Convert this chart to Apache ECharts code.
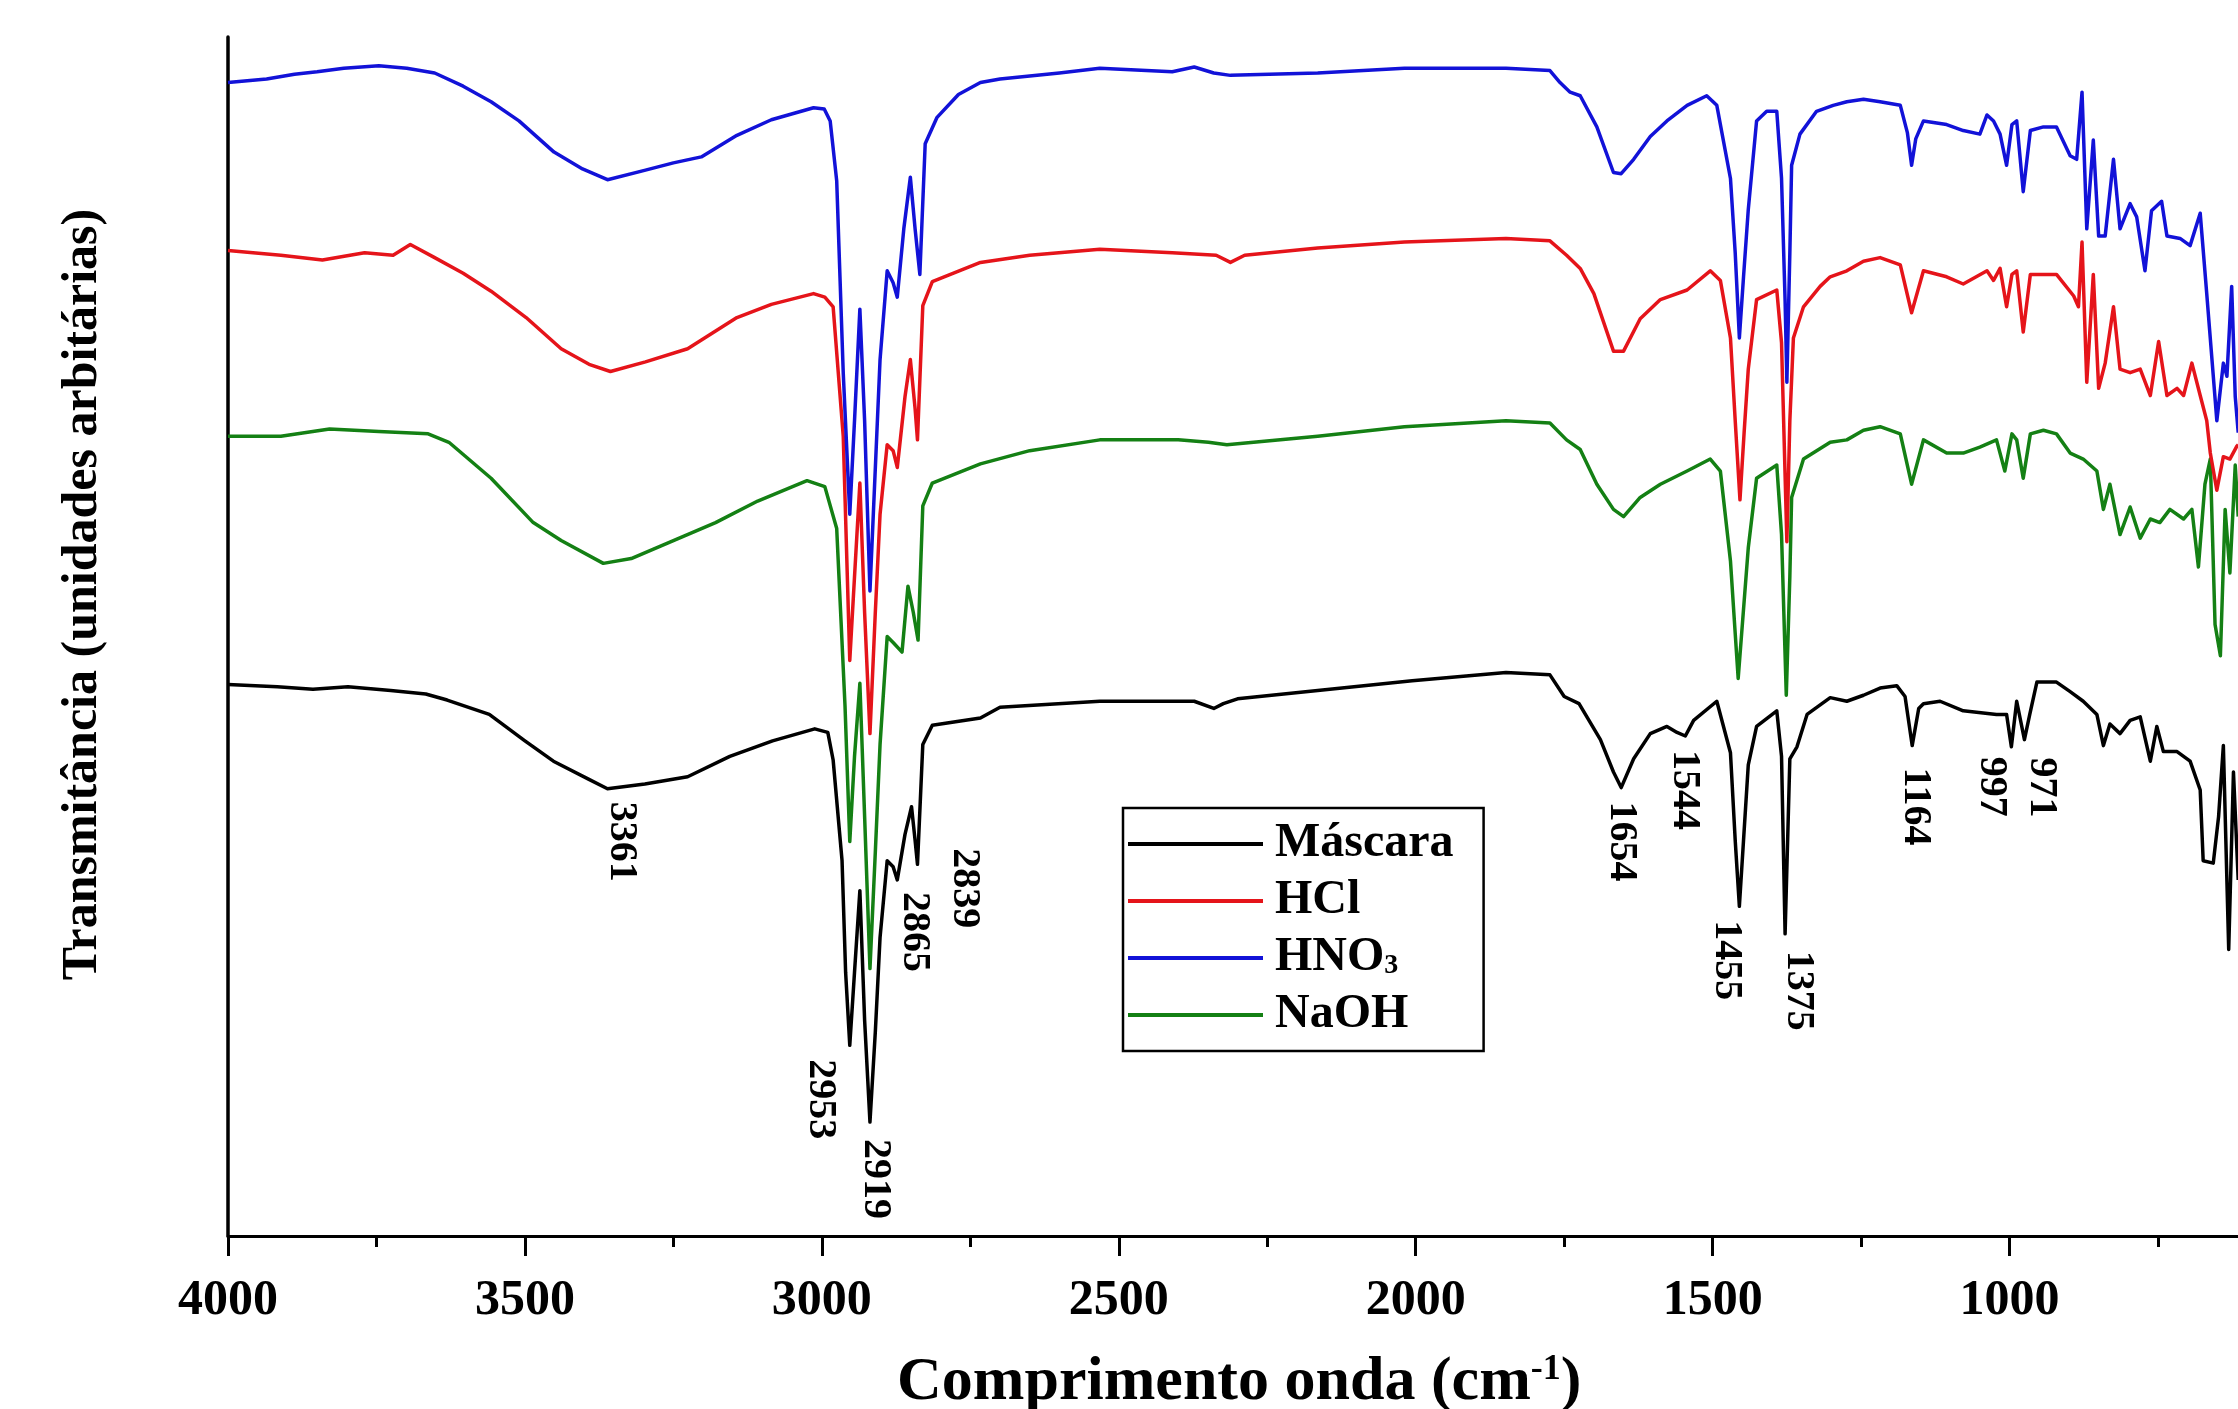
<!DOCTYPE html>
<html><head><meta charset="utf-8">
<script src="https://cdn.jsdelivr.net/npm/echarts@6/dist/echarts.min.js"></script>
<style>html,body{margin:0;padding:0;background:#fff;overflow:hidden}#c{width:2238px;height:1409px}</style>
</head><body><div id="c"></div>
<script>
// FTIR spectra: [wavenumber (cm-1), transmittance (arbitrary units)]
const seriesNames = ['Máscara', 'HCl', 'HNO3', 'NaOH'];

const mascara = [[4000,46.0],[3917,45.8],[3857,45.6],[3798,45.8],[3726,45.5],[3667,45.2],[3631,44.7],[3560,43.5],[3500,41.3],[3452,39.6],[3393,38.1],[3361,37.3],[3298,37.7],[3226,38.3],[3155,40.0],[3083,41.3],[3012,42.3],[2990,42.0],[2981,39.7],[2966,31.3],[2960,22],[2953,15.9],[2945,22],[2936,28.8],[2928,18],[2919,9.5],[2910,17],[2902,24.9],[2890,31.3],[2880,30.8],[2873,29.7],[2860,33.5],[2849,35.8],[2843,33],[2839,31.0],[2830,41.0],[2814,42.6],[2733,43.2],[2700,44.1],[2532,44.6],[2400,44.6],[2373,44.6],[2340,44.0],[2324,44.4],[2300,44.8],[2165,45.5],[2006,46.3],[1848,47.0],[1774,46.8],[1750,45.0],[1725,44.4],[1689,41.4],[1667,38.7],[1654,37.4],[1633,39.8],[1605,41.9],[1577,42.5],[1560,42.0],[1546,41.7],[1532,43.0],[1493,44.6],[1470,40.3],[1462,33],[1455,27.5],[1448,33],[1440,39.3],[1426,42.5],[1392,43.8],[1384,40],[1378,25.2],[1370,39.8],[1358,40.8],[1341,43.5],[1302,44.9],[1274,44.6],[1246,45.1],[1218,45.7],[1190,45.9],[1176,45],[1164,40.9],[1153,44],[1145,44.4],[1117,44.6],[1078,43.8],[1022,43.5],[1005,43.5],[997,40.8],[988,44.6],[975,41.4],[966,43.5],[954,46.2],[921,46.2],[898,45.4],[876,44.6],[853,43.5],[842,40.9],[831,42.7],[814,41.9],[797,43.0],[780,43.3],[763,39.6],[752,42.5],[741,40.4],[718,40.4],[696,39.6],[679,37.2],[674,31.3],[657,31.1],[648,35.0],[640,40.9],[631,23.9],[623,38.7],[615,29.7]];

const hcl = [[4000,82.2],[3911,81.8],[3841,81.4],[3770,82.0],[3722,81.8],[3693,82.7],[3652,81.6],[3604,80.3],[3557,78.8],[3498,76.6],[3439,74.0],[3392,72.7],[3356,72.1],[3297,72.9],[3226,74.0],[3143,76.6],[3085,77.7],[3014,78.6],[2995,78.3],[2981,77.5],[2964,66.7],[2953,48.0],[2945,55],[2936,62.8],[2928,52],[2919,41.9],[2910,52],[2902,60.2],[2890,66.0],[2880,65.5],[2873,64.1],[2860,70],[2851,73.1],[2843,69],[2839,66.4],[2830,77.6],[2814,79.6],[2733,81.2],[2650,81.8],[2532,82.3],[2410,82.0],[2336,81.8],[2312,81.2],[2288,81.8],[2165,82.4],[2019,82.9],[1848,83.2],[1774,83.0],[1746,81.8],[1723,80.7],[1700,78.6],[1667,73.8],[1650,73.8],[1622,76.5],[1588,78.1],[1543,78.9],[1504,80.5],[1487,79.7],[1470,74.9],[1462,68],[1454,61.4],[1447,67],[1440,72.3],[1426,78.1],[1392,78.9],[1384,74.5],[1375,57.9],[1370,68],[1364,74.9],[1347,77.5],[1319,79.2],[1302,80.0],[1274,80.5],[1246,81.3],[1218,81.6],[1184,81.0],[1165,77.0],[1145,80.5],[1106,80.0],[1078,79.4],[1038,80.5],[1027,79.7],[1016,80.7],[1005,77.5],[996,80.2],[988,80.5],[977,75.4],[965,80.2],[921,80.2],[892,78.4],[884,77.5],[878,82.9],[870,71.2],[859,80.2],[850,70.7],[839,72.8],[825,77.5],[814,72.3],[797,72.0],[780,72.3],[763,70.1],[749,74.6],[735,70.1],[718,70.7],[707,70.1],[693,72.8],[679,70.1],[668,68.0],[662,65.3],[651,62.2],[640,65],[629,64.8],[617,65.9],[615,66]];

const hno3 = [[4000,96.2],[3935,96.5],[3888,96.9],[3850,97.1],[3805,97.4],[3746,97.6],[3699,97.4],[3652,97.0],[3604,95.9],[3557,94.6],[3510,93.0],[3451,90.4],[3403,89.0],[3361,88.1],[3297,88.9],[3250,89.5],[3203,90.0],[3143,91.8],[3085,93.1],[3014,94.1],[2996,94.0],[2986,93.0],[2975,88],[2964,72],[2953,60.2],[2945,68],[2936,77.3],[2928,68],[2919,53.8],[2910,64],[2902,73.1],[2890,80.5],[2880,79.5],[2873,78.3],[2862,84],[2851,88.3],[2843,84],[2835,80.2],[2826,91.1],[2806,93.3],[2770,95.2],[2733,96.2],[2700,96.5],[2600,97.0],[2532,97.4],[2410,97.1],[2373,97.5],[2340,97.0],[2312,96.8],[2165,97.0],[2019,97.4],[1848,97.4],[1774,97.2],[1757,96.2],[1740,95.4],[1723,95.1],[1695,92.5],[1667,88.7],[1654,88.6],[1633,89.8],[1605,91.7],[1577,93.0],[1543,94.3],[1510,95.1],[1493,94.3],[1470,88.2],[1462,82],[1455,74.9],[1448,80],[1440,85.6],[1426,93.0],[1409,93.8],[1392,93.8],[1384,88.2],[1378,78],[1375,71.2],[1370,82],[1367,89.3],[1353,91.9],[1325,93.8],[1297,94.3],[1274,94.6],[1246,94.8],[1218,94.6],[1184,94.3],[1172,92],[1165,89.3],[1158,91.5],[1145,93.0],[1106,92.7],[1078,92.2],[1050,91.9],[1038,93.5],[1027,93.0],[1016,91.9],[1005,89.3],[996,92.7],[988,93.0],[977,87.1],[965,92.2],[943,92.5],[921,92.5],[898,90.1],[887,89.8],[878,95.4],[870,84.0],[859,91.4],[850,83.4],[839,83.4],[825,89.8],[814,84.0],[797,86.1],[786,85.0],[772,80.5],[761,85.5],[744,86.3],[735,83.4],[713,83.2],[696,82.6],[679,85.3],[668,78.6],[651,68.0],[640,72.8],[634,71.7],[626,79.2],[620,70],[615,67]];

const naoh = [[4000,66.7],[3911,66.7],[3829,67.3],[3746,67.1],[3663,66.9],[3628,66.2],[3557,63.2],[3486,59.5],[3439,58.0],[3368,56.1],[3321,56.5],[3250,58.0],[3179,59.5],[3108,61.3],[3025,63.0],[2995,62.5],[2975,59.0],[2961,44.2],[2953,32.9],[2945,40],[2936,46.1],[2928,35],[2919,22.3],[2910,32],[2902,41.0],[2890,50.0],[2880,49.5],[2865,48.7],[2855,54.2],[2846,52],[2838,49.7],[2830,60.9],[2814,62.8],[2733,64.4],[2650,65.5],[2532,66.4],[2400,66.4],[2349,66.2],[2318,66.0],[2165,66.7],[2019,67.5],[1848,68.0],[1774,67.8],[1746,66.4],[1723,65.6],[1695,62.7],[1667,60.6],[1650,60.0],[1622,61.6],[1588,62.7],[1543,63.8],[1504,64.8],[1487,63.8],[1470,56.3],[1463,51],[1457,46.5],[1450,51],[1440,57.4],[1426,63.2],[1392,64.3],[1384,58.5],[1376,45.1],[1370,55],[1367,61.6],[1347,64.8],[1302,66.2],[1274,66.4],[1246,67.2],[1218,67.5],[1184,66.9],[1165,62.7],[1145,66.4],[1106,65.3],[1078,65.3],[1050,65.8],[1022,66.4],[1008,63.8],[996,66.9],[988,66.4],[977,63.2],[965,66.9],[943,67.2],[921,66.9],[898,65.3],[876,64.8],[853,63.8],[842,60.6],[831,62.7],[814,58.5],[797,60.8],[780,58.2],[763,59.8],[747,59.5],[730,60.6],[707,59.8],[693,60.6],[682,55.8],[671,62.7],[662,64.8],[654,51.0],[645,48.4],[637,60.6],[629,55.3],[620,64.3],[615,60]];

// Peak annotations (wavenumber, transmittance of the Máscara curve at the band)
const peakWavenumbers = [3361, 2953, 2919, 2865, 2839, 1654, 1544, 1455, 1375, 1164, 997, 971];
const peakTransmittance = [37.3, 15.9, 9.5, 29.7, 31.0, 37.4, 41.7, 27.5, 25.2, 40.9, 40.8, 41.5];

// styling
const labelOffsets = [[14,13],[-29,14],[5,17],[12,12],[47,-16],[0,14],[-2,14],[-13,14],[11,17],[3,22],[-20,10],[15,19]];
const FONT = "'Liberation Serif', 'Times New Roman', serif";
const colors = {'Máscara':'#000000','HCl':'#e5141a','HNO3':'#1212d8','NaOH':'#148014'};
const dataByName = {'Máscara':mascara,'HCl':hcl,'HNO3':hno3,'NaOH':naoh};
const drawOrder = ['Máscara','NaOH','HCl','HNO3'];

const chart = echarts.init(document.getElementById('c'), null, {renderer:'canvas'});

const option = {
  animation: false,
  backgroundColor: '#fff',
  grid: {left: 228, top: 37, right: -68.5, bottom: 173, containLabel: false, outerBoundsMode: 'none'},
  xAxis: {
    type: 'value', inverse: true, min: 500, max: 4000, interval: 500,
    name: 'Comprimento onda (cm{sup|-1})',
    nameLocation: 'middle', nameGap: 116,
    nameTextStyle: {
      fontFamily: FONT, fontWeight: 'bold', fontSize: 62, color: '#000', padding: [0, 56, 0, 0],
      rich: {sup: {fontFamily: FONT, fontWeight: 'bold', fontSize: 36, color: '#000', verticalAlign: 'top', lineHeight: 42}}
    },
    axisLine: {show: true, onZero: false, lineStyle: {color: '#000', width: 3}},
    axisTick: {show: true, inside: false, length: 20, lineStyle: {color: '#000', width: 3}},
    minorTick: {show: true, splitNumber: 2, length: 11, lineStyle: {color: '#000', width: 3}},
    axisLabel: {
      show: true, margin: 40, fontFamily: FONT, fontWeight: 'bold', fontSize: 50, color: '#000',
      formatter: v => (v >= 1000 ? String(v) : '')
    },
    splitLine: {show: false}, minorSplitLine: {show: false}
  },
  yAxis: {
    type: 'value', min: 0, max: 100,
    name: 'Transmitância (unidades arbitárias)',
    nameLocation: 'middle', nameGap: 120,
    nameTextStyle: {fontFamily: FONT, fontWeight: 'bold', fontSize: 50, color: '#000', padding: [0, 0, 0, 84]},
    axisLine: {show: true, onZero: false, lineStyle: {color: '#000', width: 3.5}},
    axisTick: {show: false}, axisLabel: {show: false}, splitLine: {show: false}
  },
  legend: {
    orient: 'vertical', left: 1123, top: 808,
    data: seriesNames,
    icon: 'rect', itemWidth: 135, itemHeight: 4, itemGap: 9,
    borderColor: '#000', borderWidth: 2.5, borderRadius: 0,
    padding: [12, 30, 12, 5],
    formatter: n => n === 'HNO3' ? '{b|HNO}{s|3}' : '{b|' + n + '}',
    textStyle: {
      padding: [0, 0, 0, 7],
      rich: {
        b: {fontFamily: FONT, fontWeight: 'bold', fontSize: 48, color: '#000', lineHeight: 44},
        s: {fontFamily: FONT, fontWeight: 'bold', fontSize: 28, color: '#000', verticalAlign: 'bottom', lineHeight: 30}
      }
    }
  },
  series: drawOrder.map(n => ({
    name: n, type: 'line', data: dataByName[n],
    showSymbol: false, symbol: 'none', smooth: false,
    color: colors[n],
    lineStyle: {color: colors[n], width: 3.5, join: 'round'},
    emphasis: {disabled: true}
  }))
};
chart.setOption(option);

const labelGraphics = peakWavenumbers.map((wn, i) => {
  const p = chart.convertToPixel({gridIndex: 0}, [wn, peakTransmittance[i]]);
  const off = labelOffsets[i];
  return {
    type: 'text', x: p[0] + off[0], y: p[1] + off[1], rotation: -Math.PI / 2, silent: true, z: 100,
    style: {text: String(wn), font: 'bold 40px ' + FONT, fill: '#000', align: 'left', verticalAlign: 'middle'}
  };
});
chart.setOption({graphic: labelGraphics});
</script>
</body></html>
